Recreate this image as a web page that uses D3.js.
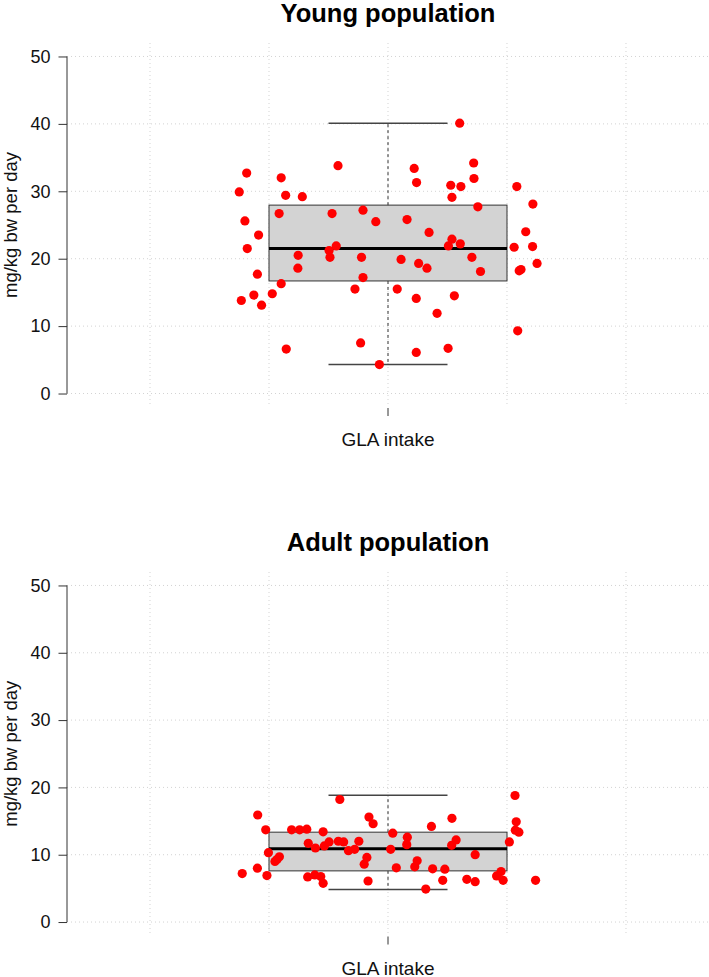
<!DOCTYPE html>
<html>
<head>
<meta charset="utf-8">
<script src="https://cdn.jsdelivr.net/npm/d3@7"></script>
<style>
  body { margin: 0; background: #fff; }
  svg { display: block; font-family: "Liberation Sans", Arial, sans-serif; }
</style>
</head>
<body>
<svg id="chart"></svg>
<script>
// values
let yTicks = [0, 10, 20, 30, 40, 50];
let xLabel = "GLA intake";
let yLabel = "mg/kg bw per day";
let titles = ["Young population", "Adult population"];

// box stats: lower whisker, Q1, median, Q3, upper whisker
let youngBox = [4.3, 16.7, 21.5, 27.95, 40.1];
let adultBox = [4.85, 7.6, 10.9, 13.35, 18.85];

// jittered x position (group at 1) and value of every point
let youngX = [0.500, 0.525, 0.519, 0.527, 0.565, 0.561, 0.507, 0.549, 0.575, 0.611,
              0.641, 0.634, 0.641, 0.656, 0.712, 0.698, 0.697, 0.658, 0.802, 0.805,
              0.826, 0.812, 0.832, 0.916, 0.959, 0.911, 0.916, 0.889, 0.908, 0.971,
              1.044, 1.064, 1.088, 1.096, 1.103, 1.131, 1.138, 1.031, 1.095, 1.165,
              1.095, 1.202, 1.223, 1.203, 1.215, 1.243, 1.215, 1.211, 1.245, 1.288,
              1.289, 1.302, 1.282, 1.311, 1.241, 1.424, 1.433, 1.441, 1.447, 1.436,
              1.463, 1.486, 1.487, 1.501];
let youngY = [29.9, 32.7, 25.6, 21.5, 23.5, 17.7, 13.8, 14.6, 13.1, 14.8,
              16.3, 26.7, 32.0, 29.4, 29.2, 20.5, 18.6, 6.6, 21.2, 20.2,
              21.9, 26.7, 33.8, 27.2, 25.5, 20.2, 17.2, 15.5, 7.5, 4.3,
              19.9, 25.8, 33.4, 31.3, 19.3, 18.6, 23.9, 15.5, 14.1, 11.9,
              6.1, 6.7, 14.5, 21.9, 22.9, 22.2, 29.1, 30.9, 30.7, 34.2,
              31.9, 27.7, 20.2, 18.1, 40.1, 21.7, 30.7, 18.2, 18.4, 9.3,
              24.0, 21.8, 28.1, 19.3];

let adultX = [0.838, 0.562, 0.589, 0.676, 0.703, 0.727, 0.782, 0.936, 0.950, 0.732,
              0.756, 0.786, 0.802, 0.833, 0.851, 0.902, 0.867, 0.888, 0.598, 0.635,
              0.627, 0.620, 0.929, 0.920, 0.561, 0.510, 0.593, 0.730, 0.754, 0.774,
              0.782, 0.933, 1.427, 1.215, 1.146, 1.431, 1.428, 1.440, 1.016, 1.065,
              1.063, 1.229, 1.214, 1.408, 1.009, 1.293, 1.098, 1.090, 1.028, 1.150,
              1.191, 1.380, 1.365, 1.184, 1.265, 1.293, 1.387, 1.496, 1.127];
let adultY = [18.2, 15.9, 13.7, 13.7, 13.7, 13.8, 13.4, 15.6, 14.6, 11.7,
              11.0, 11.3, 11.9, 12.0, 11.9, 12.0, 10.6, 10.8, 10.3, 9.7,
              9.3, 9.0, 9.6, 8.6, 8.0, 7.2, 6.9, 6.7, 7.0, 6.75,
              5.75, 6.1, 18.8, 15.4, 14.2, 14.9, 13.65, 13.35, 13.2, 12.6,
              11.5, 12.2, 11.4, 11.9, 10.8, 10.0, 9.1, 8.2, 8.05, 7.9,
              7.85, 7.5, 6.85, 6.2, 6.35, 6.0, 6.2, 6.2, 4.9];

let width = 709, height = 977;
let svg = d3.select("#chart").attr("width", width).attr("height", height);

let plotLeft = 67, plotRight = 709;
let x = d3.scaleLinear().domain([-0.079, 2.079]).range([plotLeft, plotRight]);
let xGrid = [0.2, 0.6, 1.0, 1.4, 1.8];

let panels = [
    {title: titles[0], box: youngBox, xs: youngX, ys: youngY, top: 43, bottom: 407},
    {title: titles[1], box: adultBox, xs: adultX, ys: adultY, top: 572, bottom: 935.5}
];

panels.forEach(p => drawPanel(p));

function drawPanel(p) {
    let g = svg.append("g");
    let y = d3.scaleLinear().domain([-2, 52]).range([p.bottom, p.top]);

    // dotted grid
    let grid = g.append("g")
        .attr("stroke", "#d3d3d3")
        .attr("stroke-dasharray", "1,3");
    grid.selectAll("line.h")
        .data(yTicks)
        .enter().append("line")
        .attr("x1", plotLeft).attr("x2", plotRight)
        .attr("y1", d => y(d)).attr("y2", d => y(d));
    grid.selectAll("line.v")
        .data(xGrid)
        .enter().append("line")
        .attr("x1", d => x(d)).attr("x2", d => x(d))
        .attr("y1", p.top).attr("y2", p.bottom);

    // boxplot
    let [lo, q1, med, q3, hi] = p.box;
    g.append("rect")
        .attr("x", x(0.6))
        .attr("y", y(q3))
        .attr("width", x(1.4) - x(0.6))
        .attr("height", y(q1) - y(q3))
        .attr("fill", "#d3d3d3")
        .attr("stroke", "#333")
        .attr("stroke-width", 1);

    g.selectAll("line.whisk")
        .data([[q3, hi], [q1, lo]])
        .enter().append("line")
        .attr("x1", x(1)).attr("x2", x(1))
        .attr("y1", d => y(d[0])).attr("y2", d => y(d[1]))
        .attr("stroke", "#333")
        .attr("stroke-dasharray", "3,3");

    g.selectAll("line.cap")
        .data([lo, hi])
        .enter().append("line")
        .attr("x1", x(0.8)).attr("x2", x(1.2))
        .attr("y1", d => y(d)).attr("y2", d => y(d))
        .attr("stroke", "#444")
        .attr("stroke-width", 1.5);

    g.append("line")
        .attr("x1", x(0.6)).attr("x2", x(1.4))
        .attr("y1", y(med)).attr("y2", y(med))
        .attr("stroke", "#000")
        .attr("stroke-width", 3);

    // jittered points
    g.selectAll("circle")
        .data(p.xs.map((d, i) => ({x: d, y: p.ys[i]})))
        .enter().append("circle")
        .attr("cx", d => x(d.x))
        .attr("cy", d => y(d.y))
        .attr("r", 4.6)
        .attr("fill", "#ff0000");

    // y axis
    let yAxis = g.append("g")
        .attr("transform", "translate(" + plotLeft + ",0)")
        .call(d3.axisLeft(y).tickValues(yTicks).tickSize(8.5).tickPadding(8).tickSizeOuter(0));
    yAxis.select(".domain")
        .attr("d", "M0," + y(0) + "V" + y(50))
        .attr("stroke", "#333");
    yAxis.selectAll(".tick line").attr("stroke", "#333");
    yAxis.selectAll(".tick text")
        .attr("font-size", 18)
        .attr("font-family", "Liberation Sans, Arial, sans-serif")
        .attr("fill", "#111");

    // x tick
    g.append("line")
        .attr("x1", x(1)).attr("x2", x(1))
        .attr("y1", p.bottom + 1).attr("y2", p.bottom + 9)
        .attr("stroke", "#333");

    g.append("text")
        .attr("x", x(1))
        .attr("y", p.bottom + 39)
        .attr("text-anchor", "middle")
        .attr("font-size", 19)
        .attr("fill", "#111")
        .text(xLabel);

    g.append("text")
        .attr("transform", "translate(16.5," + ((y(0) + y(50)) / 2) + ") rotate(-90)")
        .attr("text-anchor", "middle")
        .attr("font-size", 18.5)
        .attr("fill", "#111")
        .text(yLabel);

    g.append("text")
        .attr("x", x(1))
        .attr("y", p.top - 21)
        .attr("text-anchor", "middle")
        .attr("font-size", 25.5)
        .attr("font-weight", "bold")
        .attr("fill", "#000")
        .text(p.title);
}
</script>
</body>
</html>
